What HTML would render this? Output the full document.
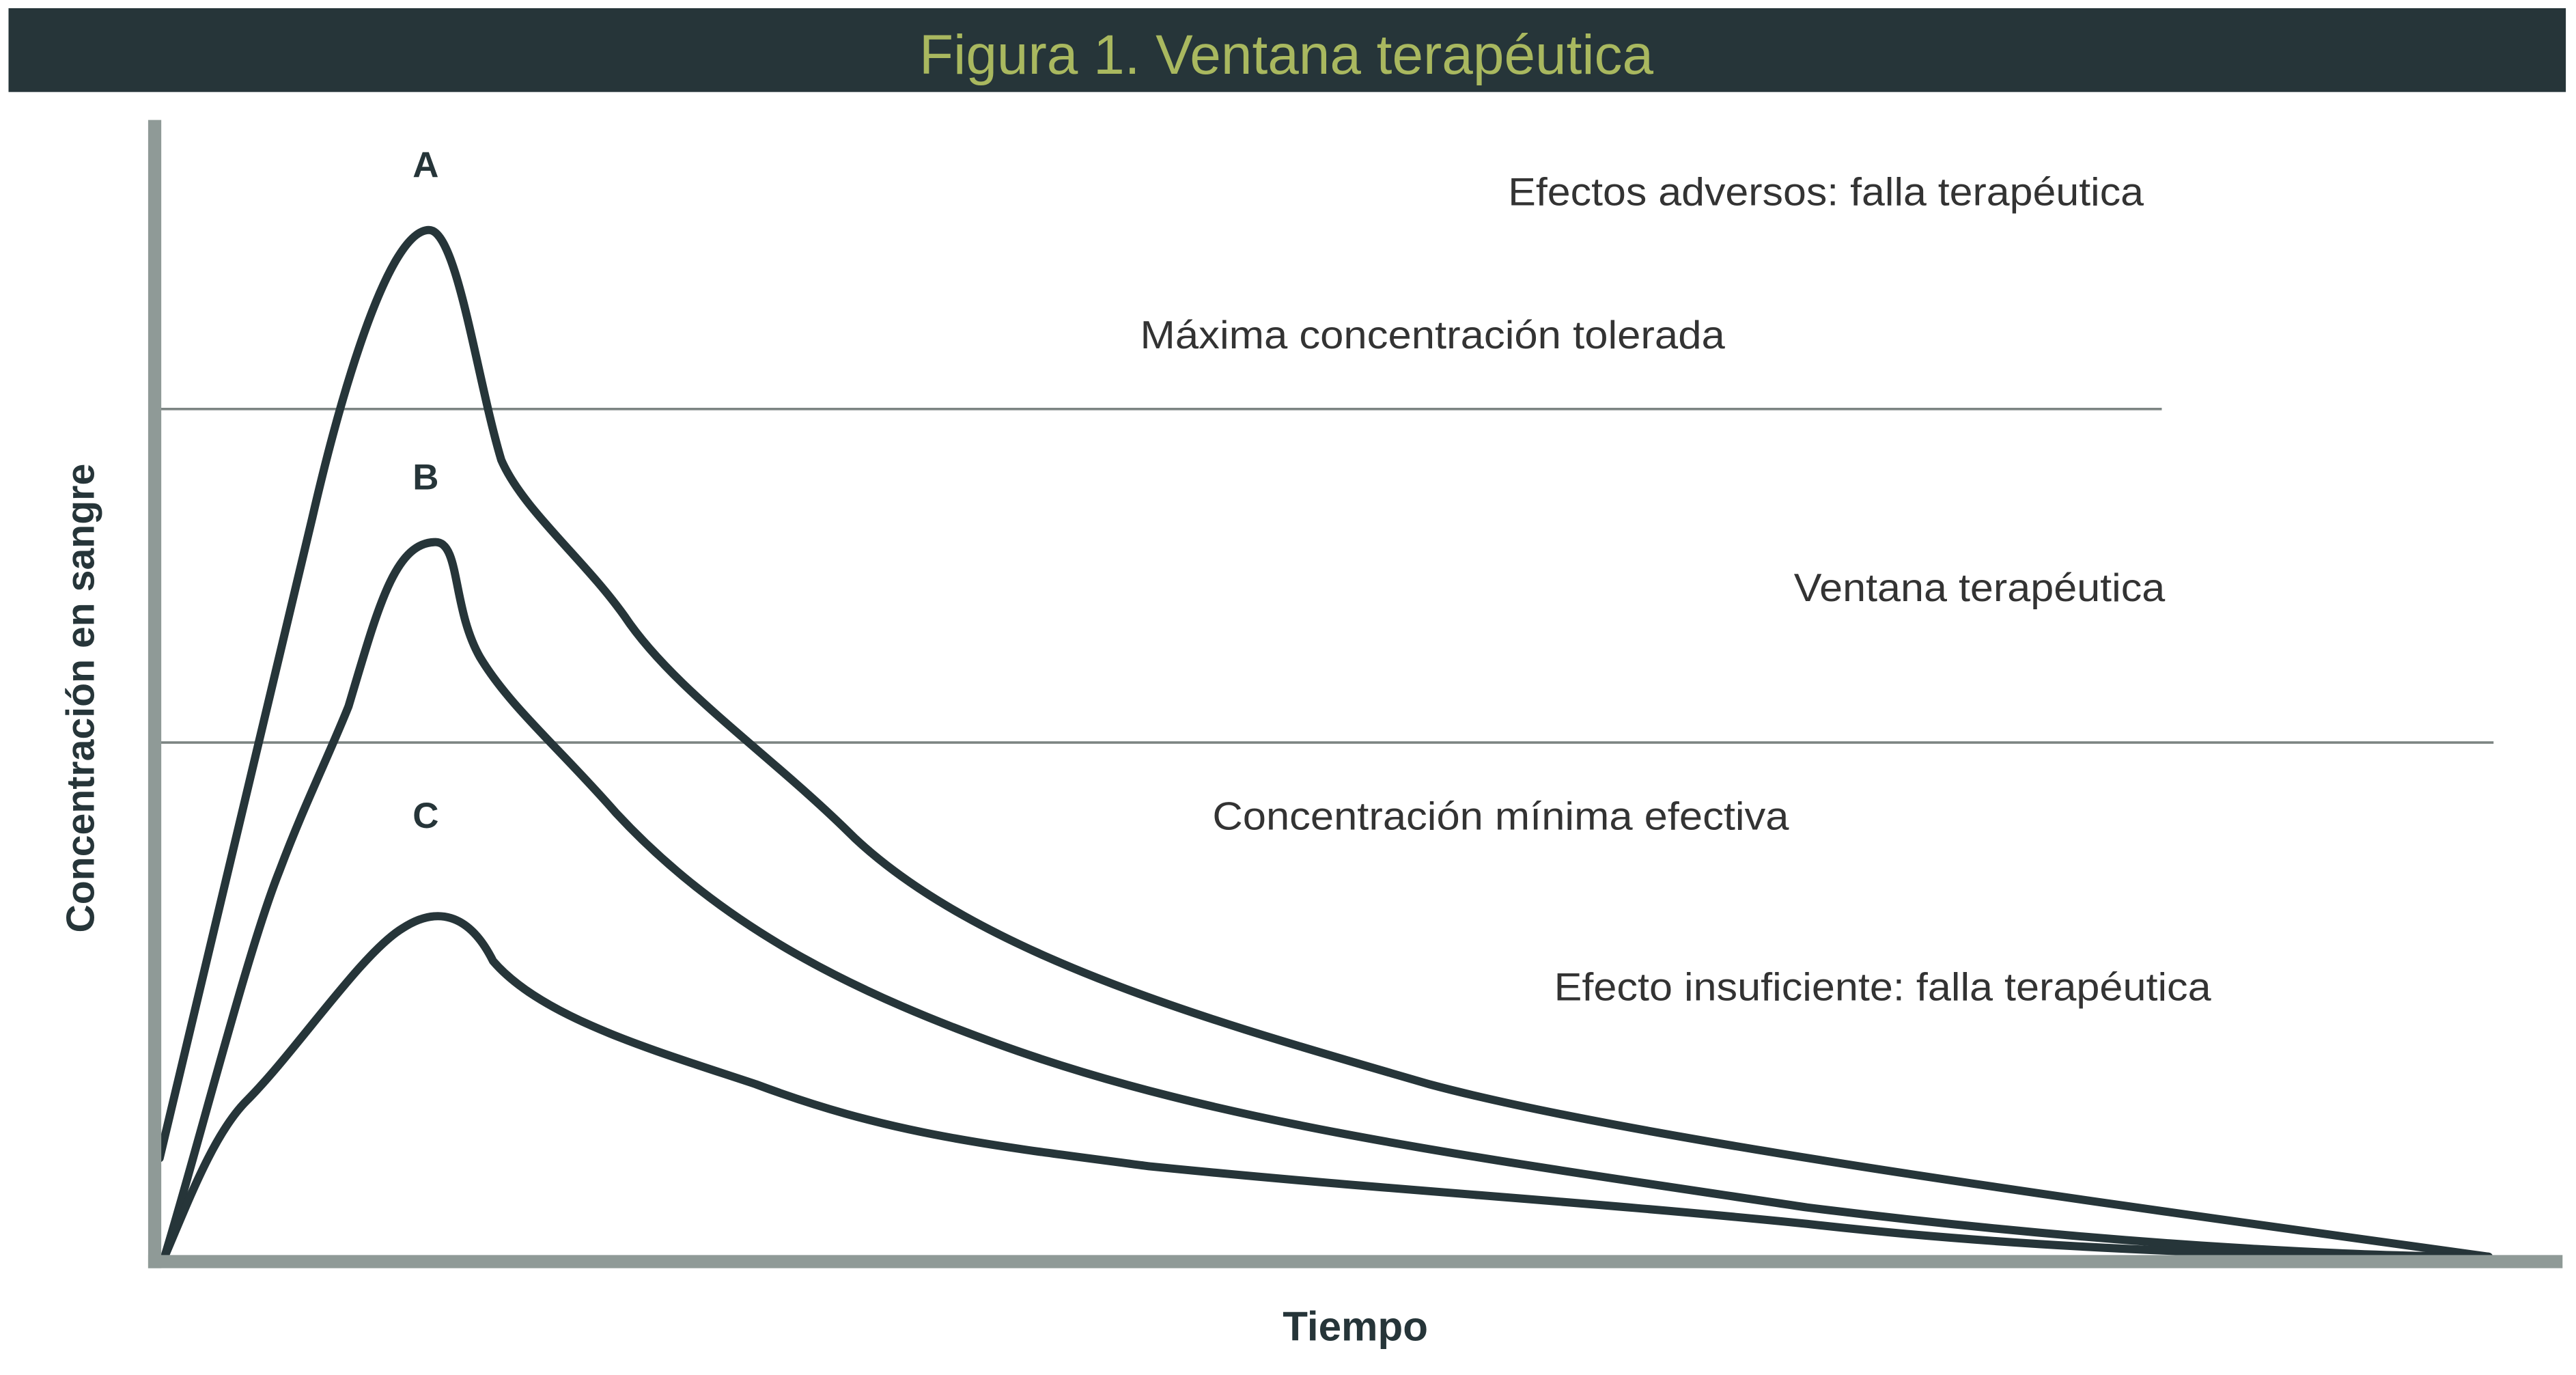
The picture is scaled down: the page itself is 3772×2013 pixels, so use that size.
<!DOCTYPE html>
<html><head><meta charset="utf-8"><style>
html,body{margin:0;padding:0;background:#fff;}
svg{display:block;}
</style></head><body>
<svg width="3772" height="2013" viewBox="0 0 1568 837" xmlns="http://www.w3.org/2000/svg" font-family="'Liberation Sans', sans-serif">
<rect x="0" y="0" width="1568" height="837" fill="#fff"/>
<rect x="5" y="5" width="1557" height="51" fill="#263539"/>
<text x="783" y="45" text-anchor="middle" font-size="34" fill="#a9b85f" textLength="447" lengthAdjust="spacingAndGlyphs">Figura 1. Ventana terapéutica</text>
<line x1="97" y1="249" x2="1316" y2="249" stroke="#7d8583" stroke-width="1.5"/>
<line x1="97" y1="452" x2="1518" y2="452" stroke="#7d8583" stroke-width="1.5"/>
<g fill="none" stroke="#263539" stroke-width="5" stroke-linecap="round" stroke-linejoin="round">
<path d="M97,705 L190,315 C205,250 235,140 261,140 C278,140 290,230 305,280 C318,310 355,340 380,375 C410,420 470,460 520,510 C600,585 750,625 870,660 C1000,695 1300,735 1515,765"/>
<path d="M100,765 C120,700 150,580 170,530 C185,490 200,460 212,430 C230,370 240,330 265,330 C280,330 275,370 292,400 C310,430 340,455 375,495 C440,565 520,605 620,640 C750,685 900,705 1100,735 C1300,760 1450,765 1515,765"/>
<path d="M100,765 C115,730 130,690 150,670 C180,640 220,580 245,565 C265,552 285,555 300,585 C330,620 400,640 460,660 C540,690 600,697 700,710 C850,725 950,730 1100,745 C1250,762 1400,765 1515,765"/>
</g>
<line x1="94" y1="73" x2="94" y2="772" stroke="#8f9a97" stroke-width="8"/>
<line x1="90" y1="768" x2="1560" y2="768" stroke="#8f9a97" stroke-width="8"/>
<g font-weight="bold" fill="#263539" text-anchor="middle">
<text x="259" y="108" font-size="22">A</text>
<text x="259" y="298" font-size="22">B</text>
<text x="259" y="504" font-size="22">C</text>
<text x="825" y="816" font-size="25">Tiempo</text>
<text transform="translate(57,425) rotate(-90)" font-size="23.8">Concentración en sangre</text>
</g>
<g font-size="24" fill="#333">
<text x="918" y="125" textLength="387" lengthAdjust="spacingAndGlyphs">Efectos adversos: falla terapéutica</text>
<text x="694" y="212" textLength="356" lengthAdjust="spacingAndGlyphs">Máxima concentración tolerada</text>
<text x="1092" y="366" textLength="226" lengthAdjust="spacingAndGlyphs">Ventana terapéutica</text>
<text x="738" y="505" textLength="351" lengthAdjust="spacingAndGlyphs">Concentración mínima efectiva</text>
<text x="946" y="609" textLength="400" lengthAdjust="spacingAndGlyphs">Efecto insuficiente: falla terapéutica</text>
</g>
</svg>
</body></html>
